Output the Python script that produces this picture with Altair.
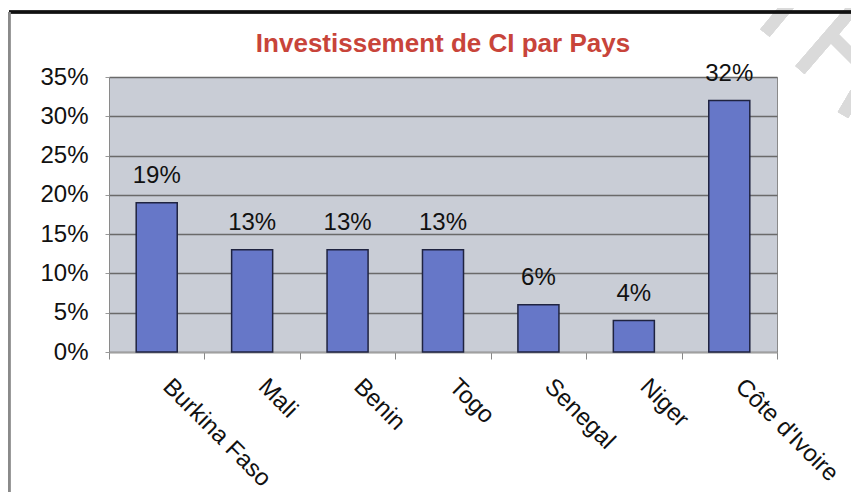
import altair as alt
import pandas as pd

countries = ["Burkina Faso", "Mali", "Benin", "Togo", "Senegal", "Niger", "Côte d'Ivoire"]
shares = [0.19, 0.13, 0.13, 0.13, 0.06, 0.04, 0.32]
labels = ["19%", "13%", "13%", "13%", "6%", "4%", "32%"]
y_ticks = [0, 0.05, 0.10, 0.15, 0.20, 0.25, 0.30, 0.35]
title_text = "Investissement de CI par Pays"

df = pd.DataFrame({"pays": countries, "part": shares, "label": labels})

x_enc = alt.X("pays:N", sort=countries, title=None,
              scale=alt.Scale(paddingInner=0, paddingOuter=0),
              axis=alt.Axis(labelAngle=45, labelAlign="left", labelBaseline="top",
                            labelFont="Liberation Sans", labelFontSize=24, labelColor="#111",
                            labelPadding=15, labelOffset=18, tickBand="extent", tickSize=7,
                            tickColor="#888", domainColor="#a0a0a0", domainWidth=1.5,
                            labelOverlap=False, labelLimit=400))
y_enc = alt.Y("part:Q", title=None,
              scale=alt.Scale(domain=[0, 0.35], nice=False, zero=True),
              axis=alt.Axis(format=".0%", values=y_ticks, labelOverlap=False,
                            labelFont="Liberation Sans", labelFontSize=24, labelColor="#111",
                            labelPadding=17, tickSize=4, tickColor="#999",
                            domain=False, grid=True, gridColor="#6a6a6a", gridWidth=1.4))

bars = alt.Chart(df).mark_bar(
    width=alt.RelativeBandSize(0.43), color="#6677c8", stroke="#1f2340", strokeWidth=1.5
).encode(x=x_enc, y=y_enc)

text = alt.Chart(df).mark_text(
    baseline="alphabetic", dy=-20, font="Liberation Sans", fontSize=24, color="#111"
).encode(x=x_enc, y=y_enc, text="label:N")

title = alt.Chart(pd.DataFrame({"t": [title_text]})).mark_text(
    font="Liberation Sans", fontSize=26, fontWeight="bold", color="#c8443a",
    baseline="middle", align="center"
).encode(text="t:N", x=alt.value(334), y=alt.value(-33))

frame_top = alt.Chart(df).mark_rule(color="#111", strokeWidth=2.5).encode(
    x=alt.value(-100), x2=alt.value(760), y=alt.value(-65))
frame_left = alt.Chart(df).mark_rule(color="#8a8a8a", strokeWidth=2.5).encode(
    x=alt.value(-100), y=alt.value(-65), y2=alt.value(430))

wm_color = "#dadada"
wm1 = alt.Chart(df).mark_rule(color=wm_color, strokeWidth=12).encode(
    x=alt.value(686), x2=alt.value(656), y=alt.value(-80), y2=alt.value(-44))
wm2 = alt.Chart(df).mark_rule(color=wm_color, strokeWidth=12).encode(
    x=alt.value(754), x2=alt.value(691), y=alt.value(-80), y2=alt.value(-7))
wm3 = alt.Chart(df).mark_rule(color=wm_color, strokeWidth=12).encode(
    x=alt.value(724), x2=alt.value(754), y=alt.value(-40), y2=alt.value(-10))
wm4 = alt.Chart(df).mark_rule(color=wm_color, strokeWidth=12).encode(
    x=alt.value(754), x2=alt.value(734), y=alt.value(4), y2=alt.value(38))

chart = alt.layer(wm1, wm2, wm3, wm4, frame_top, frame_left, bars, text, title).properties(
    width=668, height=275,
    autosize=alt.AutoSizeParams(type="none"),
    padding={"left": 101, "top": 69, "right": 74, "bottom": 140},
).configure_view(fill="#c9cdd6", stroke="#8a8a8a", strokeWidth=1)

chart.save("out.html", embed_options={"renderer": "svg", "actions": False})
